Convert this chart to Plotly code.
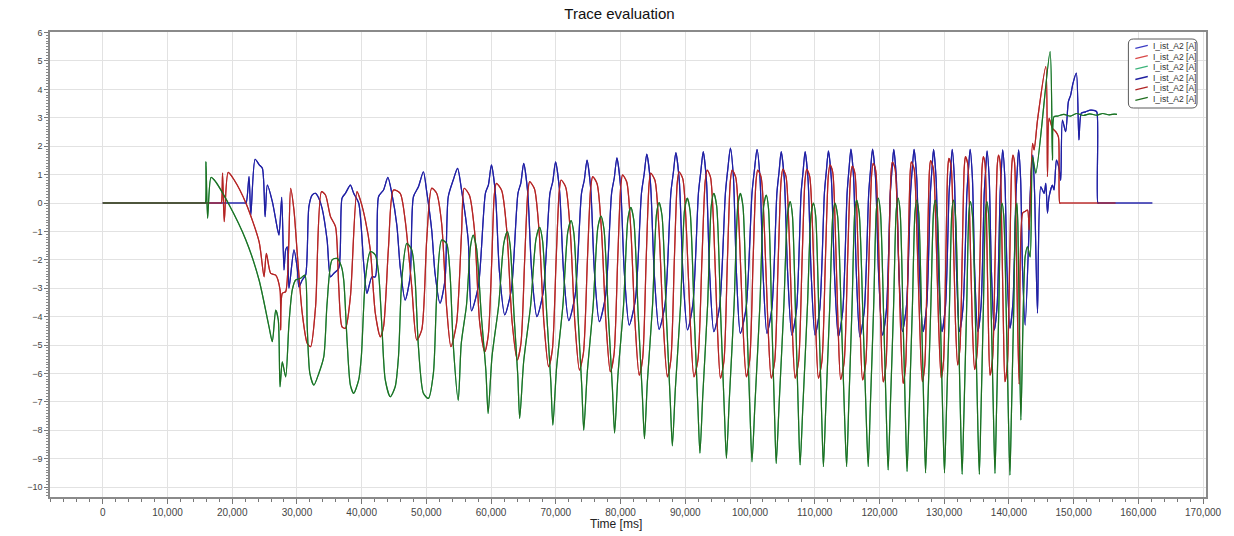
import plotly.graph_objects as go

chart_title = "Trace evaluation"
x_title = "Time [ms]"
series_name = "I_ist_A2 [A]"

# ---- blue series (time in ms, current in A) ----
blue_t = [0, 21900, 22150, 22600, 22880, 23540, 24150, 24660, 25080, 25430, 26200,
          26970, 27230, 27650, 28000, 28260, 28510, 28770, 29540, 30050, 30310,
          30820, 31340, 31850, 32350, 32880, 33380, 33890, 34660, 35190, 35690,
          36460, 36970, 37490, 38260, 38770, 39540, 40310, 40820, 41580, 42110,
          42610, 43380, 44050, 44660, 45430, 45950, 46720, 47490, 48000, 48770,
          49540, 50050, 50820, 51340, 52110, 52880, 53380, 54150, 54820, 55430,
          56460, 56970,
          58050, 59125, 59586, 60047, 60663, 61278, 62109,
          63132, 64155, 64594, 65032, 65648, 66263, 67079,
          68079, 69094, 69525, 69956, 70571, 71186, 72002,
          72986, 73971, 74402, 74817, 75387, 75956, 76725,
          77679, 78617, 79033, 79433, 80002, 80571, 81341,
          82294, 83233, 83649, 84049, 84618, 85187, 85956,
          86880, 87772, 88157, 88541, 89079, 89618, 90341,
          91171, 92033, 92402, 92772, 93264, 93756, 94418,
          95309, 96201, 96586, 96971, 97432, 97894, 98510,
          99402, 100310, 100695, 101080, 101541, 102003, 102618,
          103387, 104157, 104495, 104818, 105310, 105803, 106464,
          107187, 107895, 108203, 108510, 108972, 109434, 110049,
          110772, 111495, 111803, 112110, 112572, 113034, 113649,
          114326, 115003, 115295, 115588, 116003, 116418, 116972,
          117649, 118341, 118634, 118926, 119388, 119849, 120465,
          121080, 121680, 121942, 122203, 122603, 123003, 123542,
          124172, 124803, 125065, 125342, 125757, 126172, 126726,
          127295, 127865, 128111, 128357, 128742, 129126, 129649,
          130203, 130757, 131003, 131234, 131572, 131911, 132357,
          132926, 133511, 133757, 134003, 134357, 134711, 135188,
          135696, 136189, 136405, 136620, 136958, 137297, 137743,
          138188, 138650, 138834, 139034, 139373, 139711, 140157,
          140619, 141096, 141296, 141496, 141804, 142111, 142511,
          143434, 143696, 143973, 144415, 144927, 145435, 145696, 145957, 146204, 146727,
          146973, 147342, 147742, 148004, 148265, 148773, 149188, 149542, 149896, 150419,
          150819, 151188, 151850, 152619, 153281, 153589, 153742, 153900, 162158]
blue_v = [0, 0, 0, 0.93, -0.42, 1.54, 1.35, 1.22, -0.48, 0.63, 0.05,
          -0.89, -1.13, 0.2, -2.36, -1.65, -1.54, -3.0, -1.65, -2.3, -2.95,
          -2.71, -2.54, -0.13, 0.28, 0.34, 0.17, -0.19, -1.3, -2.6, -2.48,
          -2.3, 0.17, 0.34, 0.63, 0.34, 0, -2.12, -3.18, -2.6, -2.6,
          0.22, 0.46, 0.9, 0.34, -0.77, -2.24, -3.42, -2.6, 0.22, 0.57,
          1.1, 0.4, -0.95, -2.48, -3.53, -2.71, 0.22, 0.81, 1.22, 0.46,
          -1.3, -3.8,
          -2.90, 0.35, 0.64, 1.34, 0.34, -2.4, -3.94,
          -3.04, 0.35, 0.70, 1.40, 0.40, -2.4, -4.00,
          -3.10, 0.35, 0.75, 1.45, 0.45, -2.4, -4.14,
          -3.24, 0.35, 0.81, 1.51, 0.51, -2.4, -4.18,
          -3.28, 0.35, 0.89, 1.59, 0.59, -2.4, -4.30,
          -3.40, 0.35, 1.02, 1.72, 0.72, -2.4, -4.45,
          -3.55, 0.35, 1.07, 1.77, 0.77, -2.4, -4.47,
          -3.57, 0.35, 1.11, 1.81, 0.81, -2.4, -4.53,
          -3.63, 0.35, 1.23, 1.93, 0.93, -2.4, -4.59,
          -3.69, 0.35, 1.19, 1.89, 0.89, -2.4, -4.59,
          -3.69, 0.35, 1.11, 1.81, 0.81, -2.4, -4.65,
          -3.75, 0.35, 1.11, 1.81, 0.81, -2.4, -4.65,
          -3.75, 0.35, 1.14, 1.84, 0.84, -2.4, -4.71,
          -3.81, 0.35, 1.20, 1.90, 0.90, -2.4, -4.71,
          -3.81, 0.35, 1.20, 1.90, 0.90, -2.4, -4.65,
          -3.75, 0.35, 1.19, 1.89, 0.89, -2.4, -4.53,
          -3.63, 0.35, 1.19, 1.89, 0.89, -2.4, -4.53,
          -3.63, 0.35, 1.19, 1.89, 0.89, -2.4, -4.53,
          -3.63, 0.35, 1.19, 1.89, 0.89, -2.4, -4.53,
          -3.63, 0.35, 1.19, 1.89, 0.89, -2.4, -4.53,
          -3.63, 0.35, 1.14, 1.84, 0.84, -2.4, -4.47,
          -3.57, 0.35, 1.17, 1.87, 0.87, -2.4, -4.41,
          -3.51, 0.35, 1.17, 1.87, 0.87, -2.4, -4.30,
          1.05, 1.69, 0.3, -3.88, 0.57, 0.34, 0.69, -0.36, 0.22, 0.63,
          0.46, 1.51, 1.22, 0.8, 2.92, 2.51, 3.57, 3.8, 4.21, 4.57,
          2.22, 3.16, 3.21, 3.27, 3.25, 3.2, 0, 0, 0]

# ---- red series ----
red_t = [0, 18150, 18310, 18510, 18770, 19380, 20310, 22110, 24150, 24920, 25280,
         25950, 26720, 27390, 27490, 27740, 28260, 29030, 29540, 30050, 30820,
         31590, 32110, 32880, 33800, 34410, 35190, 35960, 36460, 36970, 37490,
         38260, 39280, 39800, 40570, 41340, 42110, 42880, 43380, 44150, 44920,
         45950, 46720, 47740, 48510, 49280, 50050, 50820, 51590, 52360, 53120,
         53790, 54660, 55430,
         55848, 56648, 57448, 58232, 59032, 59571, 60108, 60493,
         60816, 61632, 62432, 63248, 64048, 64617, 65186, 65663,
         65955, 66694, 67417, 68156, 68879, 69463, 70048, 70525,
         70817, 71525, 72232, 72940, 73648, 74263, 74879, 75387,
         75694, 76371, 77063, 77740, 78417, 78986, 79556, 80033,
         80310, 80956, 81602, 82233, 82879, 83418, 83956, 84402,
         84664, 85310, 85956, 86587, 87233, 87772, 88310, 88756,
         89033, 89618, 90187, 90772, 91341, 91956, 92572, 93079,
         93387, 93895, 94418, 94925, 95433, 95972, 96510, 96956,
         97233, 97787, 98341, 98879, 99433, 99956, 100479, 100926,
         101187, 101710, 102234, 102756, 103279, 103818, 104356, 104803,
         105080, 105557, 106033, 106495, 106972, 107510, 108049, 108495,
         108772, 109218, 109680, 110126, 110572, 111110, 111649, 112095,
         112357, 112772, 113187, 113587, 114003, 114542, 115080, 115526,
         115803, 116203, 116603, 116988, 117388, 117880, 118372, 118788,
         119034, 119418, 119803, 120188, 120572, 121003, 121434, 121788,
         122003, 122418, 122834, 123234, 123649, 124034, 124418, 124742,
         124926, 125357, 125772, 126203, 126619, 127003, 127388, 127711,
         127896, 128311, 128727, 129126, 129542, 129896, 130249, 130542,
         130726, 131065, 131403, 131742, 132080, 132434, 132773, 133096,
         133280, 133634, 133988, 134342, 134696, 135096, 135526, 135850,
         136050, 136311, 136573, 136819, 137080, 137480, 137865, 138188,
         138388, 138634, 138896, 139142, 139388, 139757, 140127, 140434,
         140619, 140865, 141111, 141342, 141588,
         142111, 142465, 142880, 143127, 143650, 143896, 144419, 145696, 145957, 146204,
         146727, 147234, 147649, 147850, 148000, 156465]
red_v = [0, 0, 0, 1.05, -0.66, 1.08, 0.81, 0, -1.36, -2.6, -1.77,
         -2.48, -2.54, -3.06, -4.47, -3.18, -3.12, 0.52, -0.25, -1.77, -3.88,
         -4.94, -5.06, -3.65, 0.4, 0.28, -0.48, -0.83, -2.95, -4.36, -4.41,
         -3.3, 0.4, 0.1, -0.6, -1.65, -3.88, -4.71, -4.36, -1.54, 0.46,
         0.34, -0.6, -2.95, -4.82, -4.47, -1.3, 0.52, 0.34, -0.72, -3.65,
         -5.06, -4.24, -1.07,
         0.52, 0.27, -1.0, -4.2, -5.24, -4.64, -2.0, 0.29,
         0.69, 0.44, -1.0, -4.2, -5.53, -4.93, -2.0, 0.35,
         0.75, 0.50, -1.0, -4.2, -5.76, -5.16, -2.0, 0.41,
         0.81, 0.56, -1.0, -4.2, -5.88, -5.28, -2.0, 0.53,
         0.93, 0.68, -1.0, -4.2, -5.94, -5.34, -2.0, 0.59,
         0.99, 0.74, -1.0, -4.2, -6.06, -5.46, -2.0, 0.65,
         1.05, 0.80, -1.0, -4.2, -6.12, -5.52, -2.0, 0.70,
         1.10, 0.85, -1.0, -4.2, -6.12, -5.52, -2.0, 0.76,
         1.16, 0.91, -1.0, -4.2, -6.17, -5.57, -2.0, 0.76,
         1.16, 0.91, -1.0, -4.2, -6.12, -5.52, -2.0, 0.76,
         1.16, 0.91, -1.0, -4.2, -6.17, -5.57, -2.0, 0.79,
         1.19, 0.94, -1.0, -4.2, -6.17, -5.57, -2.0, 0.79,
         1.19, 0.94, -1.0, -4.2, -6.17, -5.57, -2.0, 0.94,
         1.34, 1.09, -1.0, -4.2, -6.21, -5.61, -2.0, 0.90,
         1.30, 1.05, -1.0, -4.2, -6.23, -5.63, -2.0, 1.00,
         1.40, 1.15, -1.0, -4.2, -6.30, -5.70, -2.0, 1.05,
         1.45, 1.20, -1.0, -4.2, -6.35, -5.75, -2.0, 1.05,
         1.45, 1.20, -1.0, -4.2, -6.29, -5.69, -2.0, 1.09,
         1.49, 1.24, -1.0, -4.2, -6.17, -5.57, -2.0, 1.17,
         1.57, 1.32, -1.0, -4.2, -5.70, -5.10, -2.0, 1.23,
         1.63, 1.38, -1.0, -4.2, -5.86, -5.26, -2.0, 1.23,
         1.63, 1.38, -1.0, -4.2, -6.06, -5.46, -2.0, 1.29,
         1.69, 1.44, -1.0, -4.2, -6.29, -5.69, -2.0, 1.29,
         1.69, 1.44, -1.0, -4.2, -6.38,
         -0.36, -0.3, -0.25, -0.95, 2.1, 1.87, 2.92, 4.8, 0.93, 2.98,
         2.63, 2.51, 2.33, 0, 0, 0]

# ---- green series ----
green_t = [0, 15700, 15850, 15950, 16200, 16720, 17230, 19540, 22110, 24150, 25690,
           26200, 26720, 27120, 27390, 27740, 28260, 28770, 29280, 29800, 30570,
           31230, 31590, 32000, 32620, 33380, 34150, 34660, 35430, 36200, 36880,
           37230, 37740, 38260, 38770, 39540, 39950, 40570, 41340, 42110, 42620,
           43130, 43650, 44420, 45180, 45690, 46200, 46970, 47740, 48260, 48770,
           49540, 50310, 51080, 51590, 52360, 53120, 53650, 54155, 54924,
           55386, 56194, 56817, 57232, 57740, 58501, 59194, 59540,
           60140, 61171, 61971, 62509, 62925, 63555, 64125, 64417,
           65032, 66109, 66940, 67494, 67940, 68617, 69233, 69540,
           70109, 71094, 71848, 72356, 72786, 73433, 74017, 74310,
           74848, 75771, 76494, 76971, 77433, 78125, 78756, 79079,
           79587, 80464, 81141, 81587, 82048, 82739, 83371, 83694,
           84140, 84941, 85556, 85956, 86402, 87079, 87695, 88002,
           88464, 89271, 89895, 90310, 90741, 91387, 91971, 92264,
           92695, 93448, 94033, 94418, 94849, 95479, 96064, 96356,
           96787, 97541, 98126, 98510, 98910, 99495, 100033, 100310,
           100756, 101526, 102110, 102510, 102849, 103356, 103818, 104049,
           104480, 105233, 105818, 106203, 106541, 107049, 107510, 107741,
           108157, 108880, 109434, 109803, 110141, 110649, 111110, 111341,
           111695, 112326, 112803, 113126, 113526, 114111, 114649, 114926,
           115234, 115772, 116188, 116464, 116864, 117449, 117988, 118264,
           118572, 119111, 119526, 119803, 120141, 120649, 121111, 121341,
           121649, 122188, 122603, 122880, 123188, 123642, 124057, 124265,
           124572, 125096, 125495, 125772, 126065, 126511, 126926, 127126,
           127419, 127942, 128357, 128619, 128926, 129403, 129834, 130049,
           130326, 130819, 131188, 131434, 131726, 132172, 132573, 132773,
           133034, 133480, 133819, 134050, 134357, 134819, 135219, 135434,
           135665, 136065, 136373, 136588, 136865, 137280, 137665, 137850,
           138065, 138450, 138727, 138927, 139203, 139603, 139973, 140157,
           140373, 140757, 141034, 141234, 141388, 141619, 141850,
           142511, 142880, 143280, 143650, 144157, 146358, 146727, 146973, 147496, 148500,
           149500, 150500, 151500, 152500, 153500, 154500, 155500, 156300, 156700]
green_v = [0, 0, 0, 1.45, -0.54, 0.9, 0.81, -0.07, -1.3, -2.71, -4.36,
           -4.88, -3.77, -4.12, -6.47, -5.59, -6.12, -4.24, -3.06, -2.71, -2.65,
           -2.54, -4.36, -6.0, -6.41, -6.0, -5.41, -3.53, -2.0, -1.95, -2.24,
           -2.71, -4.82, -6.41, -6.70, -6.23, -5.41, -2.71, -1.71, -1.83, -2.48,
           -4.36, -6.23, -6.82, -6.47, -5.41, -2.71, -1.42, -1.65, -2.71, -5.06,
           -6.70, -6.88, -6.0, -3.3, -1.3, -1.42, -2.48, -5.0, -6.95,
           -4.95, -3.6, -1.53, -1.13, -1.58, -4.0, -5.91, -7.41,
           -5.41, -3.6, -1.41, -1.01, -1.46, -4.0, -6.08, -7.58,
           -5.58, -3.6, -1.26, -0.86, -1.31, -4.0, -6.32, -7.82,
           -5.82, -3.6, -1.02, -0.62, -1.07, -4.0, -6.50, -8.00,
           -6.00, -3.6, -0.86, -0.46, -0.91, -4.0, -6.60, -8.10,
           -6.10, -3.6, -0.55, -0.15, -0.60, -4.0, -6.80, -8.30,
           -6.30, -3.6, -0.39, 0.01, -0.44, -4.0, -7.05, -8.55,
           -6.55, -3.6, -0.23, 0.17, -0.28, -4.0, -7.31, -8.81,
           -6.81, -3.6, -0.06, 0.34, -0.11, -4.0, -7.49, -8.99,
           -6.99, -3.6, -0.06, 0.34, -0.11, -4.0, -7.61, -9.11,
           -7.11, -3.6, -0.12, 0.28, -0.17, -4.0, -7.67, -9.17,
           -7.17, -3.6, -0.35, 0.05, -0.40, -4.0, -7.72, -9.22,
           -7.22, -3.6, -0.40, 0.00, -0.45, -4.0, -7.78, -9.28,
           -7.28, -3.6, -0.40, 0.00, -0.45, -4.0, -7.78, -9.28,
           -7.28, -3.6, -0.30, 0.10, -0.35, -4.0, -7.78, -9.28,
           -7.28, -3.6, -0.23, 0.17, -0.28, -4.0, -7.90, -9.40,
           -7.40, -3.6, -0.23, 0.17, -0.28, -4.0, -7.95, -9.45,
           -7.45, -3.6, -0.30, 0.10, -0.35, -4.0, -8.00, -9.50,
           -7.50, -3.6, -0.30, 0.10, -0.35, -4.0, -8.00, -9.50,
           -7.50, -3.6, -0.30, 0.10, -0.35, -4.0, -8.05, -9.55,
           -7.55, -3.6, -0.35, 0.05, -0.40, -4.0, -8.05, -9.55,
           -7.55, -3.6, -0.35, 0.05, -0.40, -4.0, -8.02, -9.52,
           -7.52, -3.6, -0.40, 0.00, -0.45, -4.0, -8.08, -9.58,
           -7.58, -3.6, -0.40, 0.00, -0.80, -4.5, -7.64,
           -1.89, -1.54, -1.9, 1.63, 1.05, 5.33, 1.51, 3.04, 3.06, 3.12,
           3.06, 3.15, 3.08, 3.14, 3.09, 3.15, 3.1, 3.13, 3.12]

assert len(blue_t) == len(blue_v), (len(blue_t), len(blue_v))
assert len(red_t) == len(red_v), (len(red_t), len(red_v))
assert len(green_t) == len(green_v), (len(green_t), len(green_v))

series = [(blue_t, blue_v), (red_t, red_v), (green_t, green_v)]
light_colors = ["#3b3bc4", "#d84848", "#3cb47a"]
dark_colors = ["#1f1fa0", "#b02424", "#1f6e1f"]
legend_colors = light_colors + dark_colors

FONT = "Liberation Sans, Arial, sans-serif"

# plot-area geometry (pixels) used to place the hand-drawn legend box
W, H = 1234, 536
ML, MR, MT, MB = 50, 22, 32, 39
PW, PH = W - ML - MR, H - MT - MB


def px_x(px):
    return (px - ML) / PW


def px_y(py):
    return (H - MB - py) / PH


fig = go.Figure()
for (t, v), c in zip(series, light_colors):
    fig.add_trace(go.Scatter(x=t, y=v, mode="lines", name=series_name, showlegend=False,
                             line=dict(color=c, width=1.2, shape="spline", smoothing=0.7)))
for (t, v), c in zip(series, dark_colors):
    fig.add_trace(go.Scatter(x=t, y=v, mode="lines", name=series_name, showlegend=False,
                             line=dict(color=c, width=1.2, shape="spline", smoothing=0.7)))

# legend box (rounded) drawn as a shape, entries as line shapes + text
bx0, bx1, by0, by1, r = 1134, 1203, 39, 108, 5
x0, x1 = px_x(bx0), px_x(bx1)
yt, yb = px_y(by0), px_y(by1)
rx, ry = r / PW, r / PH
box_path = (f"M {x0+rx},{yt} L {x1-rx},{yt} Q {x1},{yt} {x1},{yt-ry} "
            f"L {x1},{yb+ry} Q {x1},{yb} {x1-rx},{yb} L {x0+rx},{yb} "
            f"Q {x0},{yb} {x0},{yb+ry} L {x0},{yt-ry} Q {x0},{yt} {x0+rx},{yt} Z")
shadow_path = box_path
shapes = [
    dict(type="path", path=box_path, xref="paper", yref="paper", layer="above",
         fillcolor="white", line=dict(color="#5a5a5a", width=1)),
]
annotations = []
for i, c in enumerate(legend_colors):
    row_y = 46.5 + i * 10.4
    shapes.append(dict(type="line", xref="paper", yref="paper", layer="above",
                       x0=px_x(1141), x1=px_x(1153.5), y0=px_y(row_y + 1.8), y1=px_y(row_y - 1.2),
                       line=dict(color=c, width=1.3)))
    annotations.append(dict(text=series_name, xref="paper", yref="paper",
                            x=px_x(1157), y=px_y(row_y), xanchor="left", yanchor="middle",
                            showarrow=False, font=dict(family=FONT, size=8.5, color="#333")))

annotations.append(dict(text=x_title, xref="paper", yref="paper", x=0.49, y=px_y(524),
                        xanchor="center", yanchor="middle", showarrow=False,
                        font=dict(family=FONT, size=12, color="#222")))

fig.update_layout(
    width=W, height=H, autosize=False,
    margin=dict(l=ML, r=MR, t=MT, b=MB),
    paper_bgcolor="white", plot_bgcolor="white",
    font=dict(family=FONT, color="#333"),
    title=dict(text=chart_title, x=0.502, xref="container", xanchor="center",
               y=1 - 14 / H, yref="container", yanchor="middle",
               font=dict(family=FONT, size=15, color="#111")),
    showlegend=False,
    xaxis=dict(range=[-8150, 170450], tick0=0, dtick=10000, tickformat=",d",
               ticks="outside", ticklen=5, tickcolor="#777", tickwidth=1,
               showline=True, linecolor="#8a8a8a", linewidth=1.5, mirror=True,
               showgrid=True, gridcolor="#e2e2e2", gridwidth=1, zeroline=False,
               tickfont=dict(family=FONT, size=10, color="#444"),
               minor=dict(dtick=2000, tick0=0, ticks="outside", ticklen=3,
                          tickcolor="#777", showgrid=False)),
    yaxis=dict(range=[-10.35, 6.02], tick0=0, dtick=1,
               ticks="outside", ticklen=4, tickcolor="#777", tickwidth=1,
               showline=True, linecolor="#8a8a8a", linewidth=1.5, mirror=True,
               showgrid=True, gridcolor="#e2e2e2", gridwidth=1, zeroline=False,
               tickfont=dict(family=FONT, size=9, color="#444"),
               minor=dict(dtick=0.1, ticks="outside", ticklen=2,
                          tickcolor="#888", showgrid=False)),
    shapes=shapes,
    annotations=annotations,
)

fig.write_html("out.html")
